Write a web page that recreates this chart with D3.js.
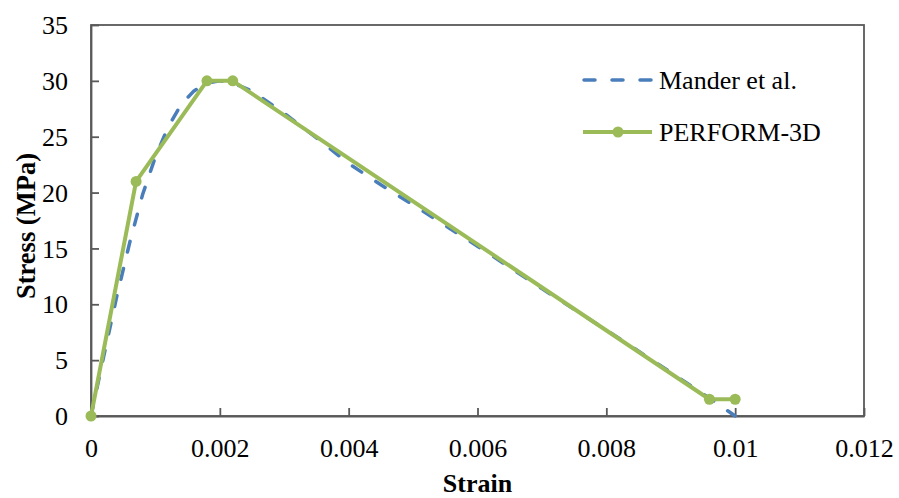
<!DOCTYPE html>
<html><head><meta charset="utf-8">
<script src="https://cdn.jsdelivr.net/npm/d3@7"></script>
<style>body{margin:0;background:#fff}svg{display:block}</style>
</head><body>
<script>
// Data
const manderStrain = [0, 0.0002, 0.0004, 0.0006, 0.0008, 0.001, 0.0012, 0.0014, 0.0016, 0.0018, 0.002, 0.0022, 0.0025, 0.003, 0.0035, 0.004, 0.0045, 0.005, 0.006, 0.007, 0.008, 0.009, 0.0096, 0.01];
const manderStress = [0, 5.4, 10.7, 15.5, 19.8, 23.2, 25.9, 27.9, 29.1, 29.8, 30, 29.8, 29.1, 27.1, 24.9, 22.6, 20.7, 18.9, 15.2, 11.4, 7.7, 3.9, 1.6, 0];
const p3dStrain = [0, 0.0007, 0.0018, 0.0022, 0.0096, 0.01];
const p3dStress = [0, 21, 30, 30, 1.5, 1.5];
const xTicks = [0, 0.002, 0.004, 0.006, 0.008, 0.01, 0.012];
const yTicks = [0, 5, 10, 15, 20, 25, 30, 35];
const seriesNames = ["Mander et al.", "PERFORM-3D"];

const W = 899, H = 498;
const blue = "#4A7EBB", green = "#9BBB59", axisCol = "#595959";
const font = "'Liberation Serif','Times New Roman',serif";

const svg = d3.select("body").append("svg").attr("width", W).attr("height", H);
const x = d3.scaleLinear().domain([0, 0.012]).range([91, 864]);
const y = d3.scaleLinear().domain([0, 35]).range([416, 25]);

// plot box
svg.append("rect").attr("x", x(0)).attr("y", y(35)).attr("width", x(0.012) - x(0)).attr("height", y(0) - y(35))
  .attr("fill", "none").attr("stroke", axisCol).attr("stroke-width", 1.8);

// x axis
const xAxis = d3.axisBottom(x).tickValues(xTicks).tickSizeInner(-8).tickSizeOuter(0)
  .tickFormat(d => d === 0 ? "0" : String(+d.toFixed(3))).tickPadding(20);
const gx = svg.append("g").attr("transform", `translate(0,${y(0)})`).call(xAxis);
gx.attr("font-family", null).attr("font-size", null);
gx.select(".domain").attr("stroke", axisCol).attr("stroke-width", 1.8);
gx.selectAll(".tick line").attr("stroke", axisCol).attr("stroke-width", 1.8);
gx.selectAll(".tick text").style("font-family", font).style("font-size", "26px").attr("fill", "#000")
  .attr("dy", null).attr("y", 41);

// y axis
const yAxis = d3.axisLeft(y).tickValues(yTicks).tickSizeInner(-8).tickSizeOuter(0).tickPadding(23);
const gy = svg.append("g").attr("transform", `translate(${x(0)},0)`).call(yAxis);
gy.attr("font-family", null).attr("font-size", null);
gy.select(".domain").attr("stroke", axisCol).attr("stroke-width", 1.8);
gy.selectAll(".tick line").attr("stroke", axisCol).attr("stroke-width", 1.8);
gy.selectAll(".tick text").style("font-family", font).style("font-size", "26px").attr("fill", "#000")
  .attr("dy", "0.33em");

// axis titles
svg.append("text").attr("x", (x(0) + x(0.012)) / 2).attr("y", 492).attr("text-anchor", "middle")
  .style("font-family", font).attr("font-weight", "bold").style("font-size", "26px").text("Strain");
svg.append("text").attr("transform", `translate(35,226) rotate(-90)`).attr("text-anchor", "middle")
  .style("font-family", font).attr("font-weight", "bold").style("font-size", "26.5px").text("Stress (MPa)");

// lines
const line = d3.line().x(d => x(d[0])).y(d => y(d[1]));
const mander = manderStrain.map((s, i) => [s, manderStress[i]]);
const p3d = p3dStrain.map((s, i) => [s, p3dStress[i]]);

svg.append("path").datum(mander).attr("d", line).attr("fill", "none").attr("stroke", blue)
  .attr("stroke-width", 3.5).attr("stroke-dasharray", "11,17").attr("stroke-linecap", "round");
svg.append("path").datum(p3d).attr("d", line).attr("fill", "none").attr("stroke", green)
  .attr("stroke-width", 4).attr("stroke-linejoin", "round");
svg.selectAll("circle.pt").data(p3d).enter().append("circle").attr("class", "pt")
  .attr("cx", d => x(d[0])).attr("cy", d => y(d[1])).attr("r", 5.5).attr("fill", green);

// legend
const lg = svg.append("g");
lg.append("line").attr("x1", 584).attr("x2", 652).attr("y1", 80).attr("y2", 80).attr("stroke", blue)
  .attr("stroke-width", 3.5).attr("stroke-dasharray", "11,17").attr("stroke-linecap", "round");
lg.append("text").attr("x", 659).attr("y", 89).style("font-family", font).style("font-size", "26px").text(seriesNames[0]);
lg.append("line").attr("x1", 583).attr("x2", 652).attr("y1", 132).attr("y2", 132).attr("stroke", green).attr("stroke-width", 4);
lg.append("circle").attr("cx", 618).attr("cy", 132).attr("r", 5.5).attr("fill", green);
lg.append("text").attr("x", 659).attr("y", 141).style("font-family", font).style("font-size", "26px").text(seriesNames[1]);
</script>
</body></html>
